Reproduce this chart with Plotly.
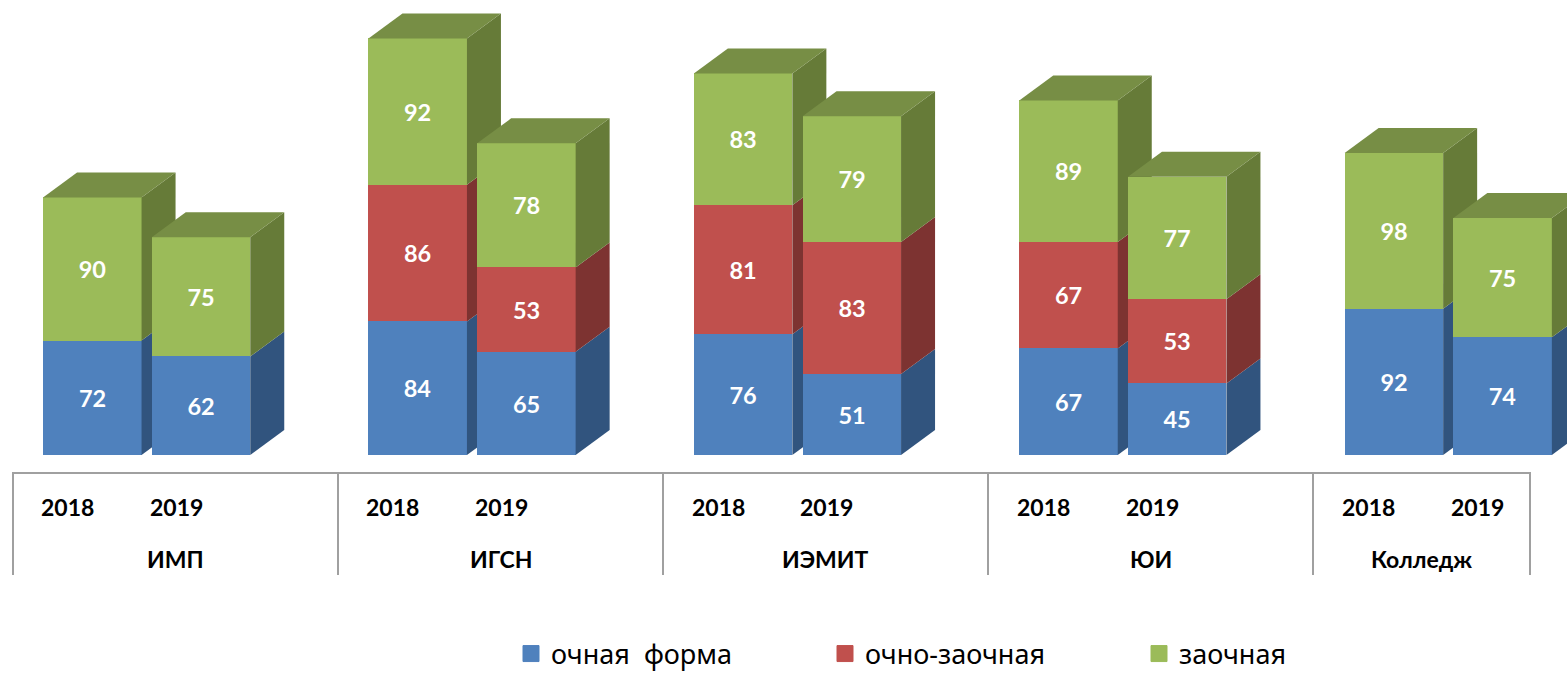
import plotly.graph_objects as go

institutes = ["ИМП", "ИГСН", "ИЭМИТ", "ЮИ", "Колледж"]
years = ["2018", "2019"]
series_names = ["очная  форма", "очно-заочная", "заочная"]
full_time = [[72, 84, 76, 67, 92], [62, 65, 51, 45, 74]]
mixed = [[0, 86, 81, 67, 0], [0, 53, 83, 53, 0]]
extramural = [[90, 92, 83, 89, 98], [75, 78, 79, 77, 75]]
series_values = [full_time, mixed, extramural]

front = ["#4F81BD", "#C0504D", "#9BBB59"]
side = ["#31547E", "#7D3331", "#667B38"]
top = ["#3F6797", "#9A403E", "#778E45"]

PITCH = 325.4
PX_PER_UNIT = 1.59
BASE_PX = 455
BAR_W = 98.5 / PITCH
STEP = 108.7 / PITCH
DX = 34 / PITCH
DY = 25 / PX_PER_UNIT
X0 = -92.3 / PITCH
X1 = (1567 - 92.3) / PITCH
Y1 = BASE_PX / PX_PER_UNIT
Y0 = -(673 - BASE_PX) / PX_PER_UNIT

def xv(px):
    return (px - 92.3) / PITCH

def yv(px):
    return (BASE_PX - px) / PX_PER_UNIT

fig = go.Figure()
for yi, year in enumerate(years):
    xa, ya = ("x", "y") if yi == 0 else ("x2", "y2")
    xs = [g + yi * STEP for g in range(len(institutes))]
    for si, name in enumerate(series_names):
        vals = series_values[si][yi]
        fig.add_trace(go.Bar(
            x=xs, y=vals, width=BAR_W, xaxis=xa, yaxis=ya,
            marker=dict(color=front[si], line=dict(width=0)),
            text=[str(v) if v else "" for v in vals],
            textposition="inside", insidetextanchor="middle", textangle=0,
            insidetextfont=dict(family="Lato", size=23.5, color="white", weight="bold"),
            showlegend=False, hoverinfo="skip", name=name,
        ))
    for g, x in enumerate(xs):
        bottom = 0
        height = [series_values[s][yi][g] for s in range(3)]
        r = x + BAR_W / 2
        l = x - BAR_W / 2
        for si, v in enumerate(height):
            if v:
                fig.add_trace(go.Scatter(
                    x=[r, r + DX, r + DX, r, r],
                    y=[bottom, bottom + DY, bottom + v + DY, bottom + v, bottom],
                    mode="lines", line=dict(width=0), fill="toself", fillcolor=side[si],
                    xaxis=xa, yaxis=ya, showlegend=False, hoverinfo="skip",
                ))
                bottom += v
                last = si
        fig.add_trace(go.Scatter(
            x=[l, r, r + DX, l + DX, l],
            y=[bottom, bottom, bottom + DY, bottom + DY, bottom],
            mode="lines", line=dict(width=0), fill="toself", fillcolor=top[last],
            xaxis=xa, yaxis=ya, showlegend=False, hoverinfo="skip",
        ))

for si, name in enumerate(series_names):
    fig.add_trace(go.Scatter(
        x=[None], y=[None], mode="markers", name=name,
        marker=dict(symbol="square", size=16, color=front[si], line=dict(width=1, color=front[si])),
        hoverinfo="skip",
    ))

edges = [xv(13), xv(338), xv(663), xv(988), xv(1313), xv(1530)]
rule = dict(color="#A0A0A0", width=2)
fig.add_shape(type="line", xref="x", yref="y", x0=edges[0], x1=edges[-1], y0=yv(473), y1=yv(473), line=rule)
for e in edges:
    fig.add_shape(type="line", xref="x", yref="y", x0=e, x1=e, y0=yv(472), y1=yv(575), line=rule)

label_font = dict(family="Lato", size=23, color="black", weight="bold")
for g, inst in enumerate(institutes):
    fig.add_annotation(x=(edges[g] + edges[g + 1]) / 2, y=yv(559), xref="x", yref="y", text=inst,
                       showarrow=False, font=label_font)
    for yi, year in enumerate(years):
        fig.add_annotation(x=g + yi * STEP - 25 / PITCH, y=yv(507), xref="x", yref="y", text=year,
                           showarrow=False, font=label_font)

axis = dict(visible=False, fixedrange=True)
fig.update_layout(
    width=1567, height=673, autosize=False,
    margin=dict(l=0, r=0, t=0, b=0, autoexpand=False),
    paper_bgcolor="white", plot_bgcolor="white", barmode="stack", bargap=0,
    xaxis=dict(range=[X0, X1], domain=[0, 1], **axis),
    yaxis=dict(range=[Y0, Y1], domain=[0, 1], **axis),
    xaxis2=dict(range=[X0, X1], overlaying="x", **axis),
    yaxis2=dict(range=[Y0, Y1], overlaying="y", **axis),
    legend=dict(orientation="h", x=511 / 1567, xanchor="left", y=19 / 673, yanchor="middle",
                entrywidth=269, entrywidthmode="pixels", itemsizing="trace", traceorder="normal",
                font=dict(family="Noto Sans", size=27, color="black"),
                bgcolor="rgba(0,0,0,0)", tracegroupgap=0),
)
fig.write_html("out.html", config=dict(displayModeBar=False),
               post_script="document.body.style.margin='0';document.body.style.overflow='hidden';")
